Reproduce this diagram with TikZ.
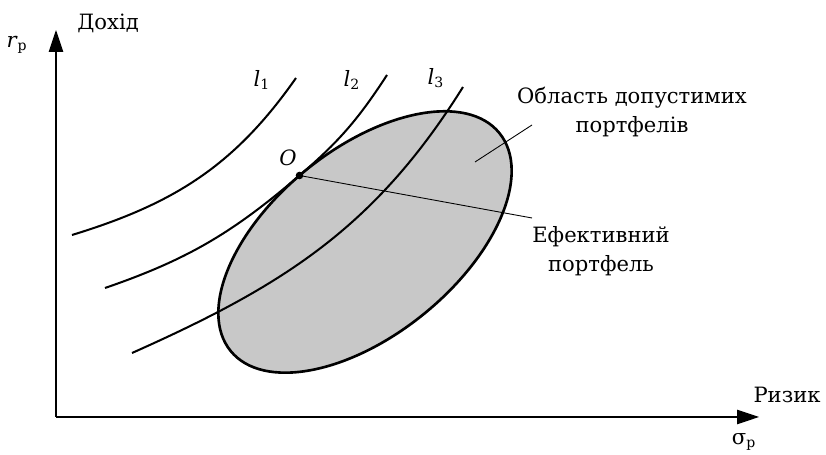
\documentclass[tikz,border=0pt]{standalone}
\usepackage{fontspec}
\setmainfont{DejaVu Serif}
\usepackage{tikz}
\usetikzlibrary{arrows.meta, positioning, calc}
\usepackage{xcolor}
\definecolor{areagray}{RGB}{200,200,200}
\tikzstyle{axis} = [line width=0.6pt, -{Triangle[length=4.4mm, width=2.9mm]}]
\tikzstyle{curve} = [line width=1.15pt]
\tikzstyle{leader} = [line width=0.5pt]
\tikzstyle{lbl} = [font=\fontsize{12}{16.5}\selectfont, align=center, inner sep=0pt]

\begin{document}
\begin{tikzpicture}[x=0.02cm, y=0.02cm]
    \useasboundingbox (0,0) rectangle (826,455);

    % axes
    \coordinate (orig) at (56,38);
    \coordinate (ytip) at (56,425);
    \coordinate (xtip) at (759,38);
    \draw [axis] (orig) -- (ytip);
    \draw [axis] (orig) -- (xtip);
    \node (ylab) [lbl, anchor=west] at (77,432) {Дохід};
    \node (rp) [lbl] at (17,410) {\textit{r}\textsubscript{p}};
    \node (xlab) [lbl] at (787,60) {Ризик};
    \node (sp) [lbl] at (744,13) {σ\textsubscript{p}};

    % feasible portfolios
    \coordinate (ctr) at (365,213);
    \draw [line width=1.5pt, fill=areagray, rotate around={39:(ctr)}] (ctr) ellipse [x radius=173, y radius=93];

    % indifference curves
    \coordinate (O) at (299.5,279.5);
    \coordinate (a1) at (72,220);
    \coordinate (b1) at (296,377);
    \coordinate (a2) at (105,167);
    \coordinate (b2) at (387,380);
    \coordinate (a3) at (132,102);
    \coordinate (b3) at (463,368);
    \draw [curve] (a1) to[out=17, in=235] (b1);
    \draw [curve] (a2) to[out=19, in=220.6] (O) to[out=40.6, in=237] (b2);
    \draw [curve] (a3) to[out=24, in=238] (b3);
    \node (l1) [lbl] at (262,375) {\textit{l}\textsubscript{1}};
    \node (l2) [lbl] at (352,375) {\textit{l}\textsubscript{2}};
    \node (l3) [lbl] at (436,377) {\textit{l}\textsubscript{3}};

    % labels with leaders
    \node (area) [lbl] at (632,343) {Область допустимих\\портфелів};
    \node (eff) [lbl] at (601,204) {Ефективний\\портфель};
    \coordinate (p1) at (475,293);
    \coordinate (p2) at (532,330);
    \coordinate (p3) at (532,237);
    \draw [leader] (p1) -- (p2);
    \draw [leader] (O) -- (p3);
    \fill (O) circle (3.8);
    \node (olab) [lbl, font=\fontsize{12}{16.5}\selectfont\itshape] at (288,297) {O};
\end{tikzpicture}
\end{document}
